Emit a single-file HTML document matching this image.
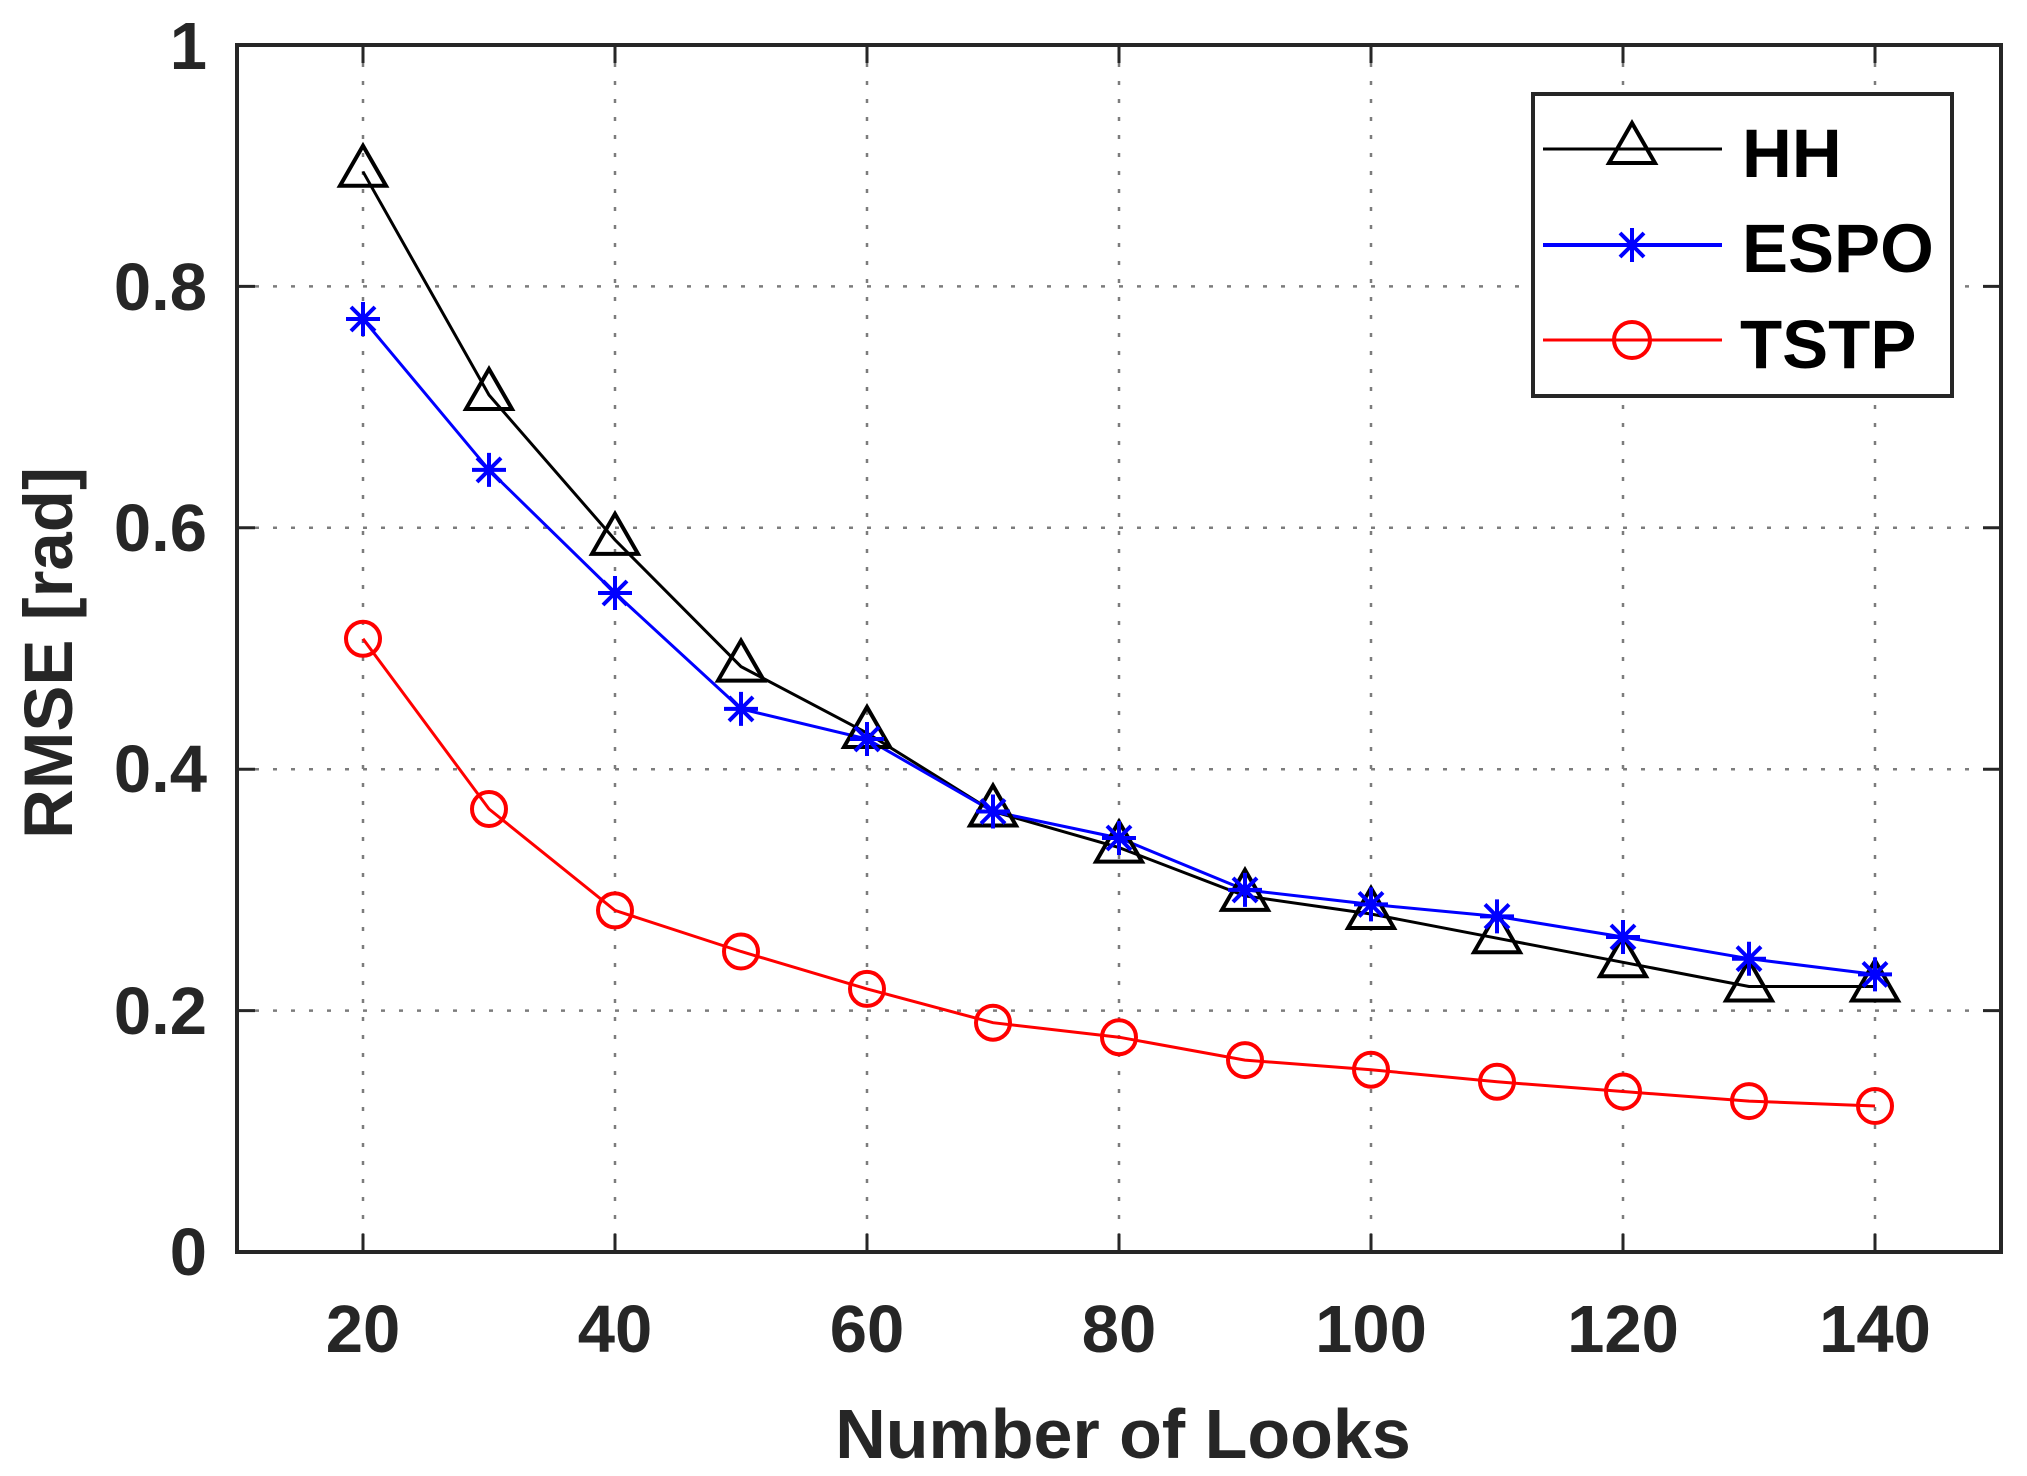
<!DOCTYPE html>
<html><head><meta charset="utf-8"><style>html,body{margin:0;padding:0;background:#fff}svg{display:block}</style></head>
<body>
<svg width="2027" height="1476" viewBox="0 0 2027 1476" xmlns="http://www.w3.org/2000/svg" font-family="Liberation Sans, Arial, sans-serif" font-weight="bold">
<rect width="2027" height="1476" fill="#fff"/>
<g stroke="#262626" stroke-width="2.5" stroke-dasharray="4,14" opacity="0.6">
<line x1="363" y1="45" x2="363" y2="1252"/><line x1="615" y1="45" x2="615" y2="1252"/><line x1="867" y1="45" x2="867" y2="1252"/><line x1="1119" y1="45" x2="1119" y2="1252"/><line x1="1371" y1="45" x2="1371" y2="1252"/><line x1="1623" y1="45" x2="1623" y2="1252"/><line x1="1875" y1="45" x2="1875" y2="1252"/>
<line x1="237" y1="1010.6" x2="2001" y2="1010.6"/><line x1="237" y1="769.2" x2="2001" y2="769.2"/><line x1="237" y1="527.8" x2="2001" y2="527.8"/><line x1="237" y1="286.4" x2="2001" y2="286.4"/>
</g>
<g stroke="#262626" stroke-width="3">
<path d="M363 1252v-18M615 1252v-18M867 1252v-18M1119 1252v-18M1371 1252v-18M1623 1252v-18M1875 1252v-18M363 45v18M615 45v18M867 45v18M1119 45v18M1371 45v18M1623 45v18M1875 45v18"/>
<path d="M237 1010.6h18M237 769.2h18M237 527.8h18M237 286.4h18M2001 1010.6h-18M2001 769.2h-18M2001 527.8h-18M2001 286.4h-18"/>
</g>
<rect x="237" y="45" width="1764" height="1207" fill="none" stroke="#262626" stroke-width="4"/>
<g fill="#262626" font-size="67" text-anchor="middle">
<text x="363" y="1352">20</text><text x="615" y="1352">40</text><text x="867" y="1352">60</text><text x="1119" y="1352">80</text><text x="1371" y="1352">100</text><text x="1623" y="1352">120</text><text x="1875" y="1352">140</text>
</g>
<g fill="#262626" font-size="67" text-anchor="end">
<text x="207" y="1275">0</text><text x="207" y="1034">0.2</text><text x="207" y="792">0.4</text><text x="207" y="551">0.6</text><text x="207" y="310">0.8</text><text x="207" y="69">1</text>
</g>
<text x="1123" y="1458" font-size="70" fill="#262626" text-anchor="middle">Number of Looks</text>
<text transform="translate(72,653) rotate(-90)" font-size="69" fill="#262626" text-anchor="middle">RMSE [rad]</text>
<polyline fill="none" stroke="#000" stroke-width="3" points="363,171.7 489,395.0 615,539.9 741,666.6 867,733.0 993,811.5 1119,847.6 1245,895.9 1371,914.0 1497,938.2 1623,962.3 1749,986.5 1875,986.5"/>
<polyline fill="none" stroke="#00f" stroke-width="3" points="363,319.0 489,469.9 615,593.0 741,708.9 867,739.0 993,811.5 1119,838.0 1245,889.9 1371,904.4 1497,916.4 1623,937.0 1749,958.7 1875,974.4"/>
<polyline fill="none" stroke="#f00" stroke-width="3" points="363,638.8 489,809.0 615,910.4 741,951.5 867,988.9 993,1022.7 1119,1037.2 1245,1060.1 1371,1069.7 1497,1081.8 1623,1091.5 1749,1101.1 1875,1106.0"/>
<g fill="none" stroke="#000" stroke-width="4">
<path d="M0,-26 L-23,14 L23,14 Z" transform="translate(363,171.7)"/>
<path d="M0,-26 L-23,14 L23,14 Z" transform="translate(489,395.0)"/>
<path d="M0,-26 L-23,14 L23,14 Z" transform="translate(615,539.9)"/>
<path d="M0,-26 L-23,14 L23,14 Z" transform="translate(741,666.6)"/>
<path d="M0,-26 L-23,14 L23,14 Z" transform="translate(867,733.0)"/>
<path d="M0,-26 L-23,14 L23,14 Z" transform="translate(993,811.5)"/>
<path d="M0,-26 L-23,14 L23,14 Z" transform="translate(1119,847.6)"/>
<path d="M0,-26 L-23,14 L23,14 Z" transform="translate(1245,895.9)"/>
<path d="M0,-26 L-23,14 L23,14 Z" transform="translate(1371,914.0)"/>
<path d="M0,-26 L-23,14 L23,14 Z" transform="translate(1497,938.2)"/>
<path d="M0,-26 L-23,14 L23,14 Z" transform="translate(1623,962.3)"/>
<path d="M0,-26 L-23,14 L23,14 Z" transform="translate(1749,986.5)"/>
<path d="M0,-26 L-23,14 L23,14 Z" transform="translate(1875,986.5)"/>
</g>
<g fill="none" stroke="#00f" stroke-width="4">
<path d="M0,-17V17M-17,0H17M-12,-12L12,12M-12,12L12,-12" transform="translate(363,319.0)"/>
<path d="M0,-17V17M-17,0H17M-12,-12L12,12M-12,12L12,-12" transform="translate(489,469.9)"/>
<path d="M0,-17V17M-17,0H17M-12,-12L12,12M-12,12L12,-12" transform="translate(615,593.0)"/>
<path d="M0,-17V17M-17,0H17M-12,-12L12,12M-12,12L12,-12" transform="translate(741,708.9)"/>
<path d="M0,-17V17M-17,0H17M-12,-12L12,12M-12,12L12,-12" transform="translate(867,739.0)"/>
<path d="M0,-17V17M-17,0H17M-12,-12L12,12M-12,12L12,-12" transform="translate(993,811.5)"/>
<path d="M0,-17V17M-17,0H17M-12,-12L12,12M-12,12L12,-12" transform="translate(1119,838.0)"/>
<path d="M0,-17V17M-17,0H17M-12,-12L12,12M-12,12L12,-12" transform="translate(1245,889.9)"/>
<path d="M0,-17V17M-17,0H17M-12,-12L12,12M-12,12L12,-12" transform="translate(1371,904.4)"/>
<path d="M0,-17V17M-17,0H17M-12,-12L12,12M-12,12L12,-12" transform="translate(1497,916.4)"/>
<path d="M0,-17V17M-17,0H17M-12,-12L12,12M-12,12L12,-12" transform="translate(1623,937.0)"/>
<path d="M0,-17V17M-17,0H17M-12,-12L12,12M-12,12L12,-12" transform="translate(1749,958.7)"/>
<path d="M0,-17V17M-17,0H17M-12,-12L12,12M-12,12L12,-12" transform="translate(1875,974.4)"/>
</g>
<g fill="none" stroke="#f00" stroke-width="4">
<circle cx="363" cy="638.8" r="17"/><circle cx="489" cy="809.0" r="17"/><circle cx="615" cy="910.4" r="17"/><circle cx="741" cy="951.5" r="17"/><circle cx="867" cy="988.9" r="17"/><circle cx="993" cy="1022.7" r="17"/><circle cx="1119" cy="1037.2" r="17"/><circle cx="1245" cy="1060.1" r="17"/><circle cx="1371" cy="1069.7" r="17"/><circle cx="1497" cy="1081.8" r="17"/><circle cx="1623" cy="1091.5" r="17"/><circle cx="1749" cy="1101.1" r="17"/><circle cx="1875" cy="1106.0" r="17"/>
</g>
<rect x="1533" y="94" width="419" height="302" fill="#fff" stroke="#262626" stroke-width="4"/>
<line x1="1543" y1="149" x2="1722" y2="149" stroke="#000" stroke-width="3"/>
<path d="M0,-26 L-23,14 L23,14 Z" transform="translate(1632,149)" fill="none" stroke="#000" stroke-width="4"/>
<line x1="1543" y1="245" x2="1722" y2="245" stroke="#00f" stroke-width="4"/>
<path d="M0,-17V17M-17,0H17M-12,-12L12,12M-12,12L12,-12" transform="translate(1632,245)" fill="none" stroke="#00f" stroke-width="4"/>
<line x1="1543" y1="340" x2="1722" y2="340" stroke="#f00" stroke-width="3"/>
<circle cx="1632" cy="340" r="18" fill="none" stroke="#f00" stroke-width="4"/>
<g font-size="69" fill="#000">
<text x="1742" y="177">HH</text>
<text x="1742" y="272">ESPO</text>
<text x="1740" y="368">TSTP</text>
</g>
</svg>
</body></html>
